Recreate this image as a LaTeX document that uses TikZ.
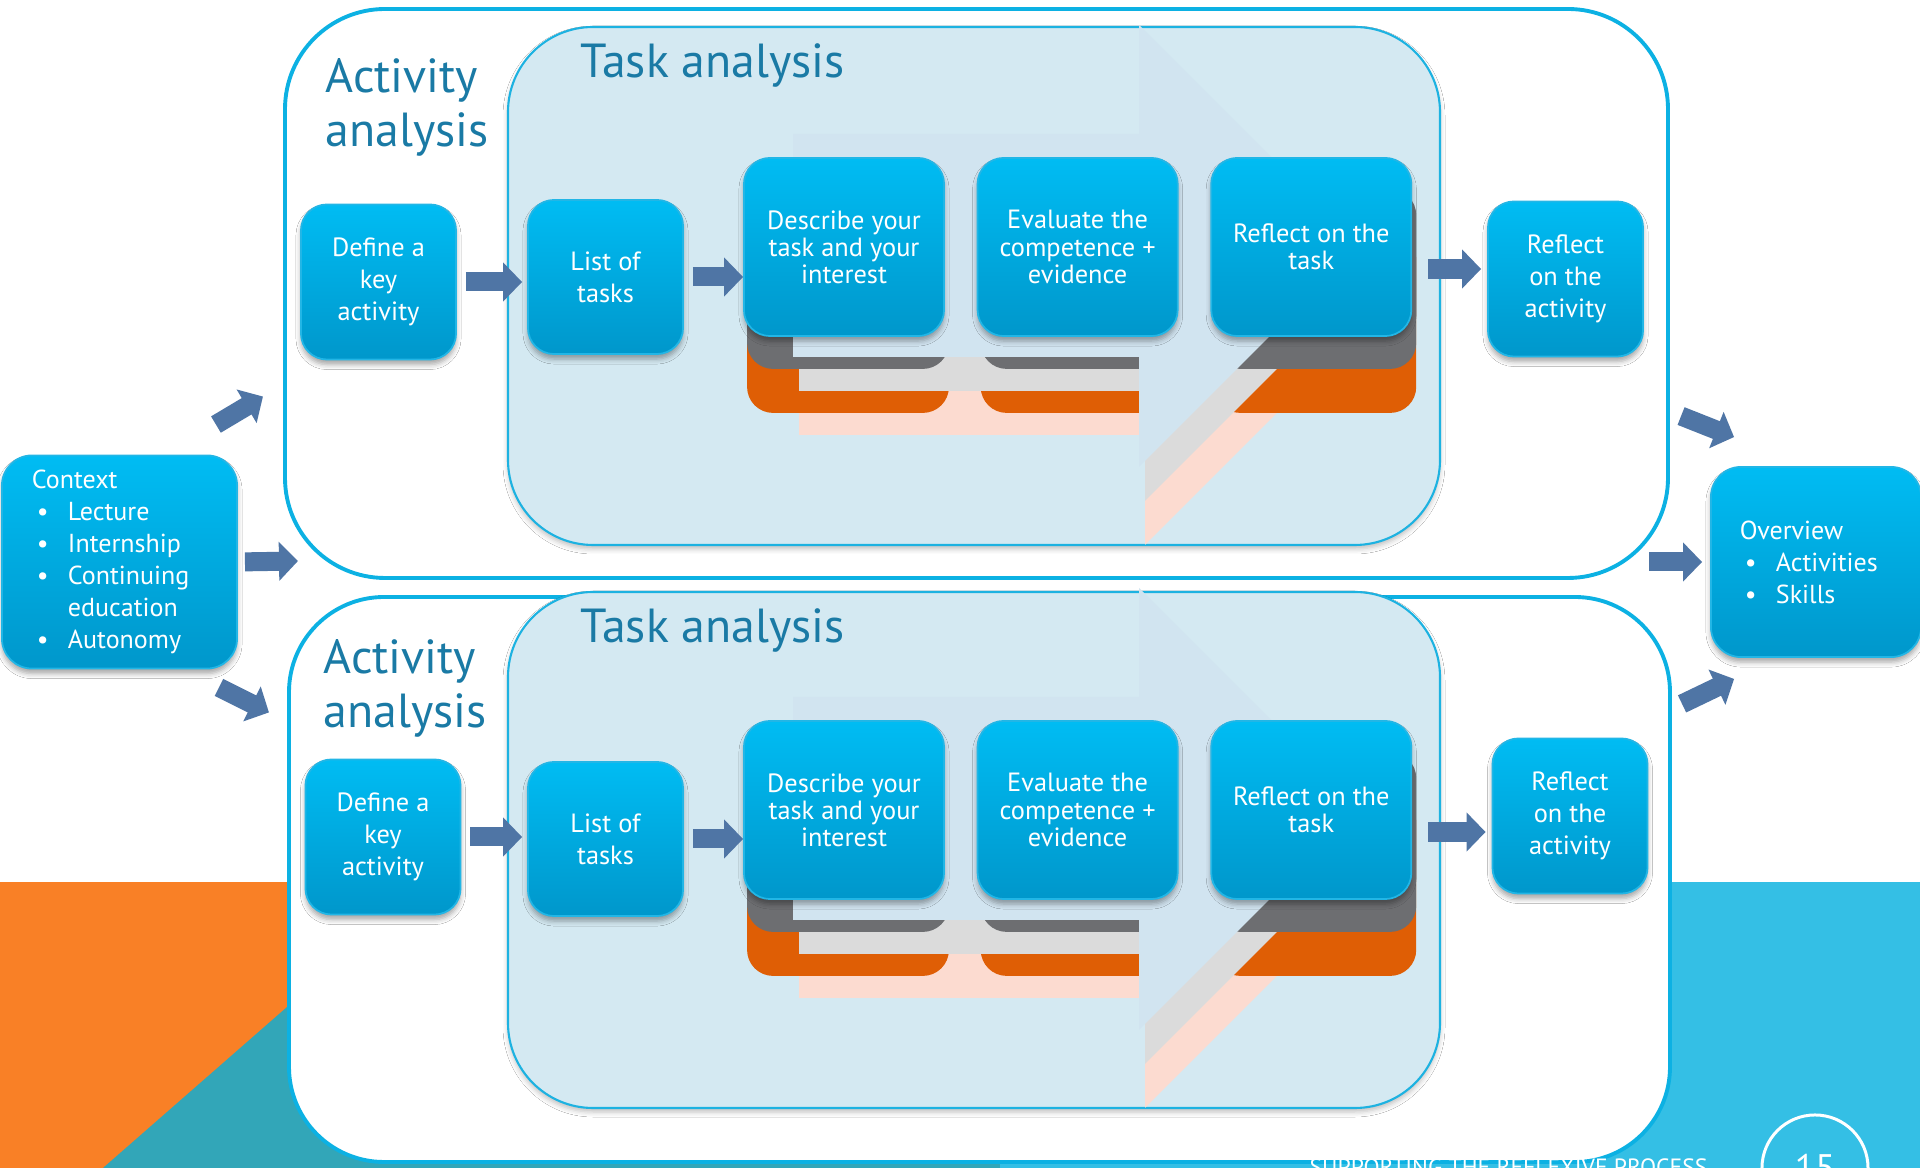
\documentclass[tikz,border=0pt]{standalone}
\usepackage{fontspec}
\setmainfont{PT Sans}
\usetikzlibrary{positioning,arrows.meta,fit,calc,shadows.blur}
\pgfdeclarelayer{background}
\pgfsetlayers{background,main}

\definecolor{slideorange}{HTML}{F98026}
\definecolor{slideteal}{HTML}{32A6B8}
\definecolor{slidecyan}{HTML}{34BFE5}
\definecolor{framecyan}{HTML}{0CB1E3}
\definecolor{taskfill}{HTML}{D4E9F2}
\definecolor{taskline}{HTML}{1DB2E1}
\definecolor{titleblue}{HTML}{1A7AA5}
\definecolor{boxtop}{HTML}{00BCF3}
\definecolor{boxbot}{HTML}{0097CB}
\definecolor{boxedge}{HTML}{22B6E6}
\definecolor{arrowblue}{HTML}{4F75A5}
\definecolor{layergray}{HTML}{6D6E71}
\definecolor{layerorange}{HTML}{DF5E05}
\definecolor{chevblue}{HTML}{D1E4F0}
\definecolor{chevgray}{HTML}{DBDBDB}
\definecolor{chevpink}{HTML}{FCDBD0}

\newcommand{\bul}[1]{\hspace*{0.05cm}\makebox[0.31cm][l]{\textbullet}#1}
% big notched arrow behind the three task steps
\newcommand{\bigchevron}[3]{\fill[#3,shift={(#1,#2)}] (793,134) -- (1139,134) -- (1139,25) -- (1360,246) -- (1139,467) -- (1139,357) -- (793,357) -- cycle;}

\begin{document}
\begin{tikzpicture}[x=0.01cm, y=-0.01cm,
					every node/.style={on grid},
					node distance=2.335cm,
					>={Triangle[width=0.38cm,length=0.19cm]},
					box/.style={rounded corners=0.26cm, draw=boxedge, line width=0.5pt, top color=boxtop, bottom color=boxbot, text=white, align=center, inner sep=0pt, minimum width=1.55cm, minimum height=1.55cm, font=\fontsize{7.5}{9.1}\selectfont, blur shadow={shadow xshift=0pt, shadow yshift=-0.05cm, shadow blur radius=0.05cm, shadow opacity=35}},
					stepbox/.style={box, minimum width=2cm, minimum height=1.78cm, font=\fontsize{7.5}{7.7}\selectfont},
					infobox/.style={box, rounded corners=0.3cm, align=left, inner xsep=0.3cm, font=\fontsize{7.4}{9.1}\selectfont},
					title/.style={font=\fontsize{13.6}{15.6}\selectfont, text=titleblue, align=left, inner sep=0pt},
					actframe/.style={draw=framecyan, fill=white, line width=1.1pt, rounded corners=1cm, inner sep=0pt},
					taskframe/.style={draw=taskline, fill=taskfill, line width=0.6pt, rounded corners=0.85cm, inner sep=0pt, blur shadow={shadow xshift=0pt, shadow yshift=-0.04cm, shadow blur radius=0.05cm, shadow opacity=25}},
					blockarrow/.style={->, draw=arrowblue, line width=0.19cm}]
	\useasboundingbox (0,0) rectangle (1920,1168);

	% context and overview
	\node[infobox, minimum width=2.35cm, minimum height=2.13cm, text width=1.75cm] (ctx) at (119.5,562) {Context\\ \bul{Lecture}\\ \bul{Internship}\\ \bul{Continuing}\\ \hspace*{0.36cm}education\\ \bul{Autonomy}};
	\node[infobox, minimum width=2.1cm, minimum height=1.9cm, text width=1.52cm, inner xsep=0.29cm] (ov) at (1816,562) {Overview\\ \bul{Activities}\\ \bul{Skills}};

	% first row
	\node[title, anchor=base west] (actT1) at (325,147) {Activity\\analysis};
	\node[title, anchor=base west] (taskT1) at (580,78) {Task analysis};
	\node[box] (def1) at (378.5,282) {Define a\\key\\activity};
	\node[box, minimum height=1.54cm] (list1) at (605.5,277) {List of\\tasks};
	\node[stepbox] (desc1) at (844,247) {Describe your\\task and your\\interest};
	\node[stepbox, right= of desc1] (eval1) {Evaluate the\\competence +\\evidence};
	\node[stepbox, right= of eval1] (refT1) {Reflect on the\\task};
	\node[box] (refA1) at (1565.5,279) {Reflect\\on the\\activity};

	% second row
	\node[title, anchor=base west] (actT2) at (323,728) {Activity\\analysis};
	\node[title, anchor=base west] (taskT2) at (580,643) {Task analysis};
	\node[box] (def2) at (383,837) {Define a\\key\\activity};
	\node[box, minimum height=1.54cm] (list2) at (605.5,839) {List of\\tasks};
	\node[stepbox] (desc2) at (844,810) {Describe your\\task and your\\interest};
	\node[stepbox, right= of desc2] (eval2) {Evaluate the\\competence +\\evidence};
	\node[stepbox, right= of eval2] (refT2) {Reflect on the\\task};
	\node[box] (refA2) at (1570,816) {Reflect\\on the\\activity};

	\coordinate (joinL) at (298,561);
	\coordinate (joinR) at (1649,562);

	\draw[blockarrow] ([shift={(-22,-30)}]ctx.north east) -- ++(47,-28);
	\draw[blockarrow, shorten <=0.07cm] (ctx.east) -- (joinL);
	\draw[blockarrow] ([shift={(-19,18)}]ctx.south east) -- ++(50,25);
	\draw[blockarrow] ([shift={(-29,-50)}]ov.north west) -- ([shift={(24,-29)}]ov.north west);
	\draw[blockarrow, shorten >=0.08cm] (joinR) -- (ov.west);
	\draw[blockarrow] ([shift={(-28,46)}]ov.south west) -- ([shift={(24,21)}]ov.south west);
	\foreach \r in {1,2} {
		\draw[blockarrow, shorten <=0.09cm, shorten >=0.05cm] (def\r.east) -- (def\r.east -| list\r.west);
		\draw[blockarrow, shorten <=0.09cm] (list\r.east) -- (list\r.east -| desc\r.west);
		\draw[blockarrow, shorten <=0.16cm, shorten >=0.06cm] ([yshift=-0.22cm]refT\r.east) -- ([yshift=-0.22cm]refT\r.east -| refA\r.west);
	}

	% footer
	\node[anchor=base east, text=white, inner sep=0pt, font=\fontsize{6.7}{8}\selectfont] (foot) at (1708,1176) {SUPPORTING THE REFLEXIVE PROCESS};
	\node[circle, draw=white, line width=0.85pt, minimum size=1.06cm, inner sep=0pt, text=white, font=\fontsize{10.5}{12}\selectfont] (page) at (1815,1168) {15};

	\begin{pgfonlayer}{background}
		\fill[white] (0,0) rectangle (1920,1168);
		\fill[slideorange] (0,882) rectangle (1000,1168);
		\fill[slideteal] (103,1168) -- (430,882) -- (1000,882) -- (1000,1168) -- cycle;
		\fill[slidecyan] (1000,882) rectangle (1920,1168);

		\node[actframe, fit={(285,9) (1668,578)}] (act1) {};
		\node[actframe, rounded corners=0.95cm, fit={(289,597) (1670,1162)}] (act2) {};
		\node[taskframe, fit={(508,27) (1440,545)}] (task1) {};
		\node[taskframe, fit={(508,592) (1440,1108)}] (task2) {};

		\foreach \r/\dy in {1/0,2/563} {
			\bigchevron{6}{\dy+78}{chevpink}
			\foreach \b in {desc,eval,refT}
				\fill[layerorange, rounded corners=0.26cm] ([shift={(4,76)}]\b\r.north west) rectangle ([shift={(4,76)}]\b\r.south east);
			\bigchevron{6}{\dy+34}{chevgray}
			\foreach \b in {desc,eval,refT}
				\fill[layergray, rounded corners=0.26cm] ([shift={(4,32)}]\b\r.north west) rectangle ([shift={(4,32)}]\b\r.south east);
			\bigchevron{0}{\dy}{chevblue}
		}
	\end{pgfonlayer}
\end{tikzpicture}
\end{document}
